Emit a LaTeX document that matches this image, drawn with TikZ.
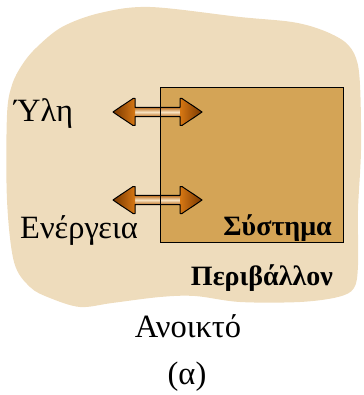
\documentclass[tikz,border=0pt]{standalone}
\usepackage{fontspec}
\setmainfont{Liberation Serif}
\usetikzlibrary{calc}

\definecolor{envfill}{RGB}{238,220,188}
\definecolor{sysfill}{RGB}{212,164,86}
\definecolor{headdark}{RGB}{120,55,0}
\definecolor{headlight}{RGB}{215,120,20}
\definecolor{shaftedge}{RGB}{185,105,25}
\definecolor{shaftmid}{RGB}{248,228,195}

\tikzset{
  plainlabel/.style={font=\fontsize{32.5}{34}\selectfont, inner sep=0pt},
  boldlabel/.style={font=\bfseries\fontsize{28}{30}\selectfont, inner sep=0pt},
  outline/.style={draw=black, line width=1pt, line join=round},
}

% double arrow centred at height #1, from x=113 to x=202
\newcommand{\exchangearrow}[1]{%
  \begin{scope}[shift={(0,#1)}]
    % shaft
    \shade[top color=shaftedge, bottom color=shaftedge, middle color=shaftmid]
      (134,-4.7) rectangle (181,4.7);
    % left head
    \shade[left color=headdark, right color=headlight]
      (113,0) .. controls (120,-5) and (128,-10) .. (133,-13.5)
      -- (135,-13.5) -- (135,13.5) -- (133,13.5)
      .. controls (128,10) and (120,5) .. cycle;
    % right head
    \shade[right color=headdark, left color=headlight]
      (202,0) .. controls (195,-5) and (187,-10) .. (182,-13.5)
      -- (180,-13.5) -- (180,13.5) -- (182,13.5)
      .. controls (187,10) and (195,5) .. cycle;
    % outline
    \draw[outline]
      (113,0) .. controls (120,-5) and (128,-10) .. (133,-13.5)
      -- (135,-13.5) -- (135,-4.7) -- (180,-4.7) -- (180,-13.5) -- (182,-13.5)
      .. controls (187,-10) and (195,-5) .. (202,0)
      .. controls (195,5) and (187,10) .. (182,13.5)
      -- (180,13.5) -- (180,4.7) -- (135,4.7) -- (135,13.5) -- (133,13.5)
      .. controls (128,10) and (120,5) .. cycle;
  \end{scope}}

\begin{document}
\begin{tikzpicture}[x=1pt,y=-1pt]
  \useasboundingbox (0,0) rectangle (363,395);

  % surroundings
  \fill[envfill] plot[smooth cycle, tension=0.55] coordinates {
    (150,7) (240,17) (292,22) (322,30) (345,42) (356,58) (360,85)
    (361,150) (358,210) (358,265) (354,288) (338,297) (300,302)
    (240,302) (195,296) (160,297) (112,303) (80,307) (50,298)
    (30,287) (14,262) (7,200) (7,115) (12,85) (22,65) (36,48)
    (62,27) (100,13)};

  % system
  \fill[sysfill] (160,87) rectangle (343,242);
  \exchangearrow{112}
  \exchangearrow{200}
  \node[draw=black, line width=1pt, minimum width=183pt, minimum height=155pt,
        inner sep=0pt, anchor=north west] (system) at (160,87) {};

  % labels
  \node[plainlabel, anchor=base west] (matter) at (14,122) {Ύλη};
  \node[plainlabel, anchor=base west] (energy) at (20,238) {Ενέργεια};
  \node[boldlabel, anchor=base east] (syslabel) at (332,235) {Σύστημα};
  \node[boldlabel, anchor=base east] (envlabel) at (333,285) {Περιβάλλον};
  \node[plainlabel, anchor=base] (kind) at (188,337) {Ανοικτό};
  \node[plainlabel, anchor=base] (tag) at (187,384) {(α)};
\end{tikzpicture}
\end{document}
